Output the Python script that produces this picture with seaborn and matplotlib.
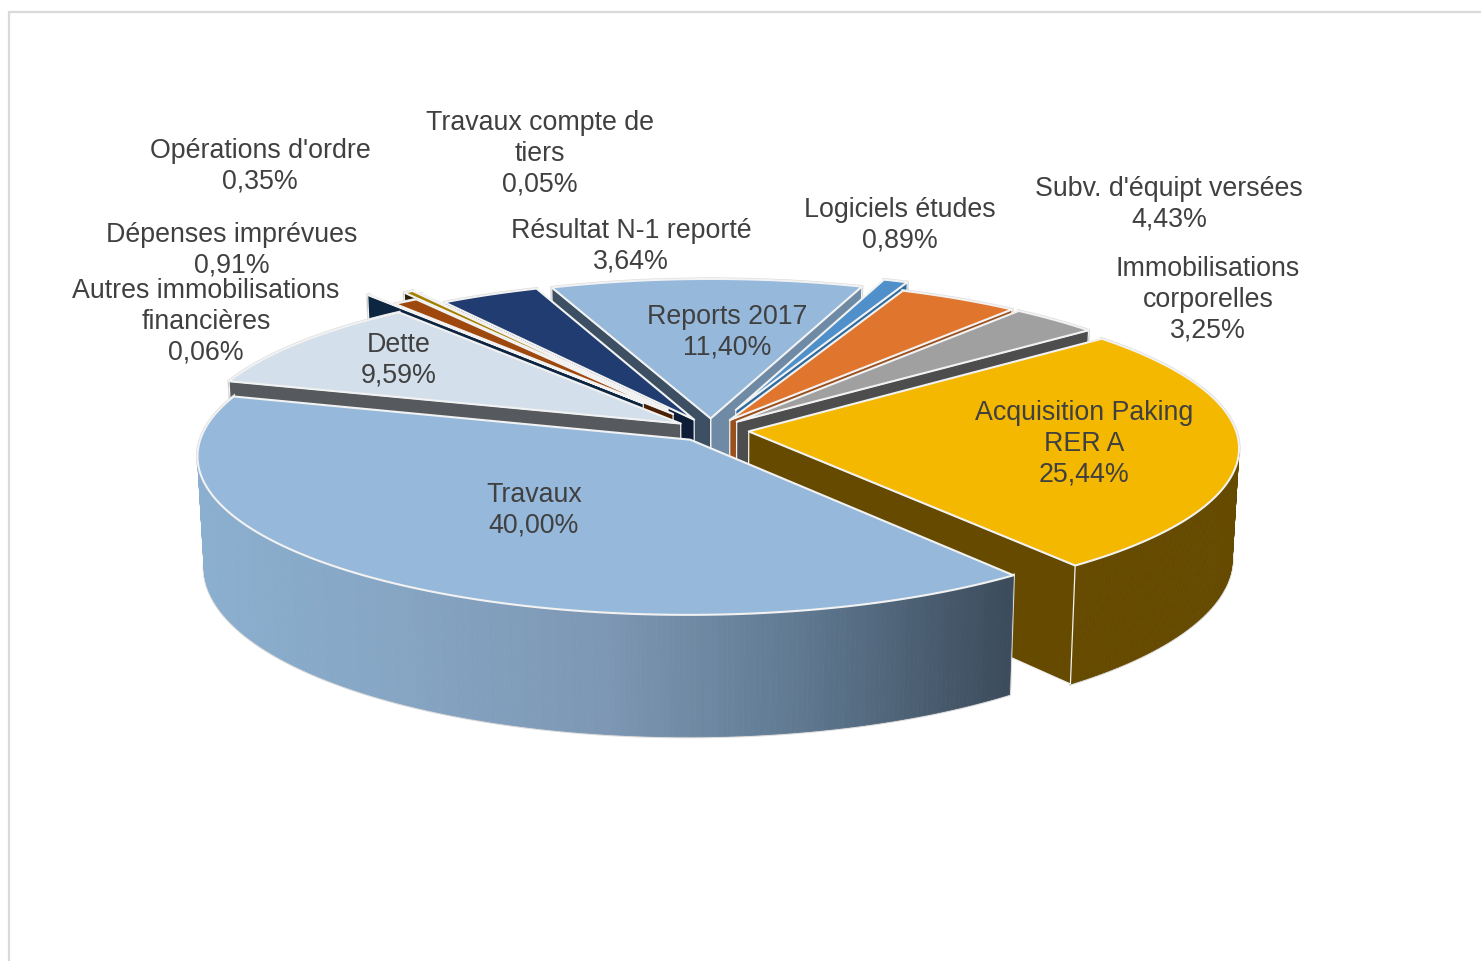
import numpy as np
import matplotlib
matplotlib.use("Agg")
import matplotlib.pyplot as plt
from matplotlib.patches import Polygon, Rectangle
import seaborn as sns

categories = ["Acquisition Paking\nRER A", "Travaux", "Dette", "Autres immobilisations\nfinancières",
              "Dépenses imprévues", "Opérations d'ordre", "Travaux compte de\ntiers", "Résultat N-1 reporté",
              "Reports 2017", "Logiciels études", "Subv. d'équipt versées", "Immobilisations\ncorporelles"]
shares = [25.44, 40.00, 9.59, 0.06, 0.91, 0.35, 0.05, 3.64, 11.40, 0.89, 4.43, 3.25]
explode = [0.078, 0.075, 0.075, 0.225, 0.13, 0.19, 0.16, 0.075, 0.075, 0.14, 0.075, 0.075]
top_colors = ["#F4B800", "#95B8DB", "#D3DFEB", "#0C2A48", "#9E480E", "#A58000", "#D9D0B0", "#203C70",
              "#95B8DB", "#5090CA", "#E0752D", "#A0A0A0"]
start_wall = ["#654A00", "#8FB2D3", "#565A5E", "#0C2540", "#4B2004", "#2A2208", "#26241E", "#0E1C38",
              "#3C4F63", "#2F6A9C", "#9A4F1E", "#4D4D4D"]
end_wall = ["#654A00", "#3C4C5C", "#565A5E", "#0C2540", "#4B2004", "#2A2208", "#26241E", "#0E1C38",
            "#6E8AA5", "#2F6A9C", "#9A4F1E", "#4D4D4D"]
label_x = [1084, 534, 399, 206, 232, 260, 540, 631, 727, 900, 1169, 1208]
label_y = [444, 510, 360, 322, 250, 166, 154, 246, 332, 225, 204, 300]

FIRST_ANGLE = 50.8
CX, CY, R, A, K, H, TAPER = 711.0, 431.0, 487.0, 155.6, 0.10, 109.0, 0.987
EDGE = "#F2F2F2"

sns.set_theme(style="white")
plt.rcParams["font.family"] = ["Liberation Sans", "DejaVu Sans"]

fig = plt.figure(figsize=(14.81, 9.62), dpi=100, facecolor="white")
ax = fig.add_axes([0, 0, 1, 1])
ax.set_xlim(0, 1481)
ax.set_ylim(962, 0)
ax.axis("off")
ax.add_patch(Rectangle((9, 13), 1600, 1100, fc="white", ec="#D9D9D9", lw=1.6, zorder=0))


def proj(u, v, z=0.0):
    s = 1.0 / (1.0 + K * v)
    x = CX + R * u * s
    if z:
        x = CX + (x - CX) * TAPER
    return x, CY - A * v * s + z * H * s


def wall_poly(us, vs):
    top = [proj(u, v, 0) for u, v in zip(us, vs)]
    bottom = [proj(u, v, 1) for u, v in zip(us, vs)]
    return top + bottom[::-1]


edges = FIRST_ANGLE + 3.6 * np.concatenate([[0], np.cumsum(shares)])
slices = []
for i in range(len(shares)):
    t0, t1 = np.radians(edges[i]), np.radians(edges[i + 1])
    mid = (t0 + t1) / 2
    slices.append((np.cos(mid), i, t0, t1, mid))
slices.sort(key=lambda r: -r[0])  # back to front

pal = sns.blend_palette(["#8BAFCF", "#85A5C3", "#7D97B4", "#5F7890", "#3C4C5C"], 300)
zo = 1
for _, i, t0, t1, mid in slices:
    e = explode[i]
    ex, ey = e * np.sin(mid), e * np.cos(mid)
    n = max(3, int((t1 - t0) * 100))
    ts = np.linspace(t0, t1, n)
    us, vs = ex + np.sin(ts), ey + np.cos(ts)

    faces = [([ex, us[0]], [ey, vs[0]], start_wall[i], np.sin(t0)),
             ([ex, us[-1]], [ey, vs[-1]], end_wall[i], -np.sin(t1))]
    for fu, fv, col, nv in faces:
        if nv > 0:
            ax.add_patch(Polygon(wall_poly(fu, fv), closed=True, fc=col, ec=col, lw=0.4, zorder=zo))
            zo += 1

    # outer wall drawn strip by strip so the turning point of the rim stays filled
    xs = np.array([proj(u, v)[0] for u, v in zip(us, vs)])
    ax.add_patch(Polygon(wall_poly(us, vs), closed=True, fc="none", ec="#DADADA", lw=2.2, zorder=zo))
    zo += 1
    for j in range(n - 1):
        if i == 1:
            col = pal[int(np.clip((xs[j] - 200) / 810, 0, 1) * 299)]
        else:
            col = end_wall[i]
        ax.add_patch(Polygon(wall_poly(us[j:j + 2], vs[j:j + 2]), closed=True, fc=col, ec=col, lw=0.6, zorder=zo))
    zo += 1

    for fu, fv, col, nv in sorted(faces, key=lambda f: -f[3]):
        if nv <= 0:
            ax.add_patch(Polygon(wall_poly(fu, fv), closed=True, fc=col, ec=EDGE, lw=0.9, zorder=zo))
            zo += 1

    top = [proj(ex, ey)] + [proj(u, v) for u, v in zip(us, vs)]
    ax.add_patch(Polygon(top, closed=True, fc=top_colors[i], ec=EDGE, lw=1.5, zorder=zo, joinstyle="round"))
    zo += 1

for name, val, lx, ly in zip(categories, shares, label_x, label_y):
    pct = f"{val:.2f}%".replace(".", ",")
    ax.text(lx, ly, f"{name}\n{pct}", ha="center", va="center", fontsize=19.25, color="#404040",
            linespacing=1.24, zorder=500)

fig.savefig("out.png", dpi=100, facecolor="white")
